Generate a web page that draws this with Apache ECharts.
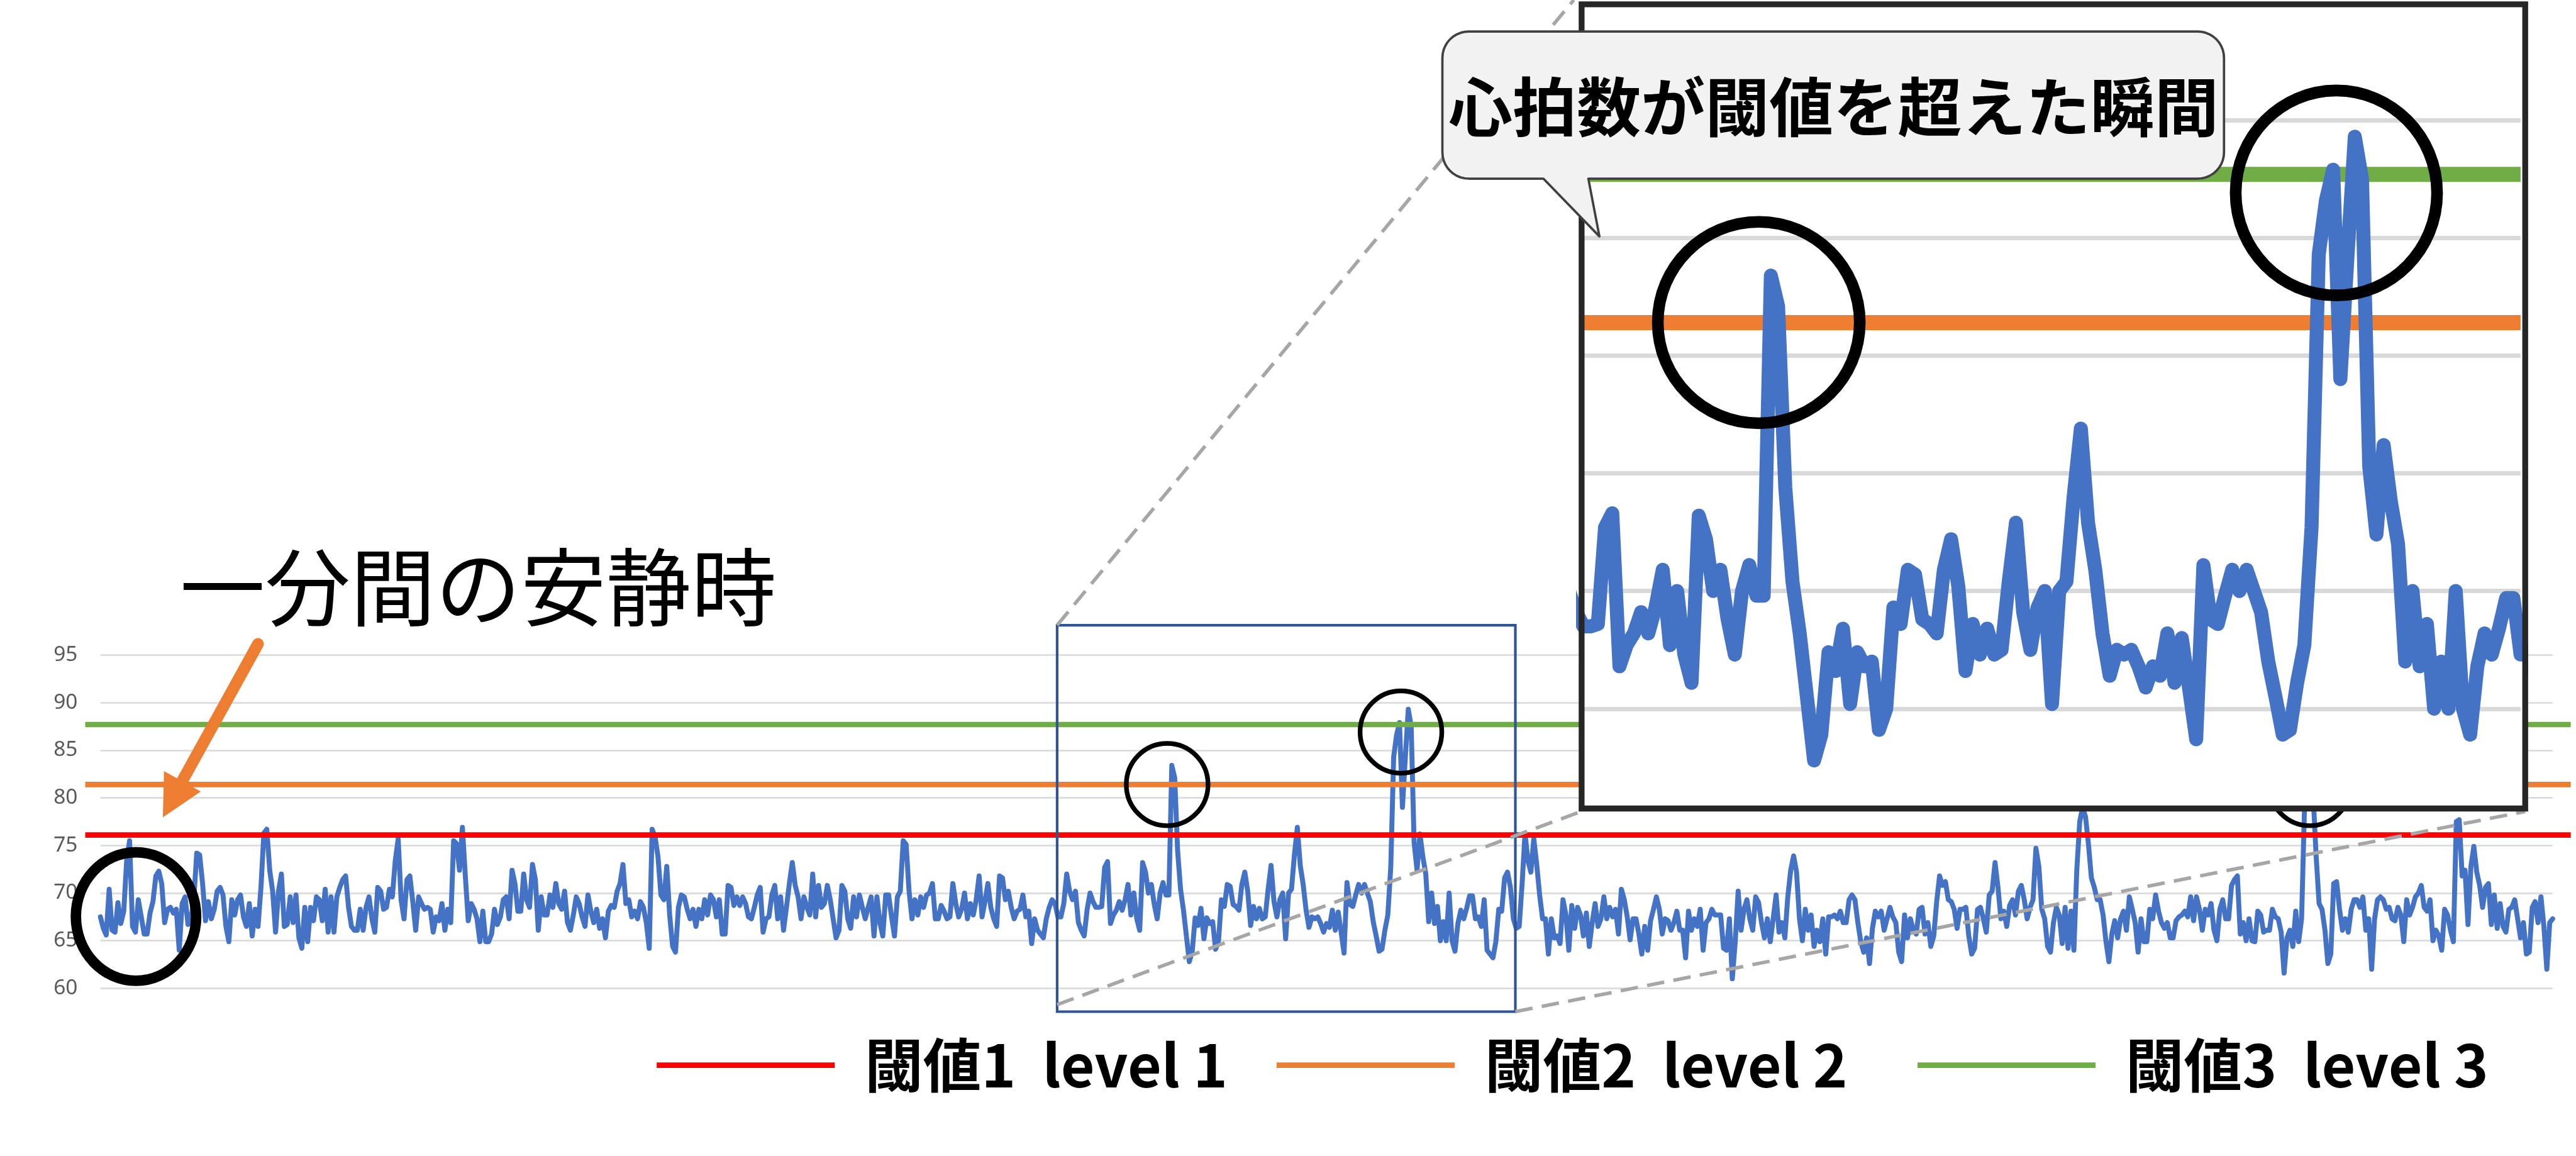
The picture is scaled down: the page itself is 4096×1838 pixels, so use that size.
<!DOCTYPE html>
<html><head><meta charset="utf-8">
<script src="https://cdn.jsdelivr.net/npm/echarts@6/dist/echarts.min.js"></script>
<style>html,body{margin:0;padding:0;background:#fff;overflow:hidden}#c{width:4096px;height:1838px}</style>
</head><body><div id="c"></div>
<script>
// ---------------- data ----------------
const yTicks = [60, 65, 70, 75, 80, 85, 90, 95];
const thresholdNames = ['閾値1  level 1', '閾値2  level 2', '閾値3  level 3'];
const thresholdValues = [76.1, 81.4, 87.7];
const thresholdColors = ['#ff0000', '#ed7d31', '#70ad47'];
const zoomRange = [341, 471];          // sample indices shown magnified in the inset
const restLabel = '一分間の安静時';
const calloutLabel = '心拍数が閾値を超えた瞬間';
const heartRate = [
67.5,66.3,65.6,70.4,66.1,65.9,69,66.8,68.1,73.4,
75.5,66.5,65.9,69.3,67.5,65.7,65.7,67.9,69.1,71.8,
72.3,71,66.9,68.3,68.5,67.9,68.3,64,68.9,69.6,
66.7,67.3,69.3,74.2,74,71,67.1,69.1,67.3,68.3,
70.2,70.6,69.8,66.5,64.9,69.3,67.7,69.3,69.8,67.5,
66.5,68.9,65.5,68.3,66.5,70.6,76.3,76.7,72.4,70.2,
65.9,70.2,72,66.5,66.7,69.6,66.9,69.8,65.3,64.2,
68.5,64.9,68.5,67.1,69.6,69.3,67.1,70.4,65.9,69.6,
65.9,69.6,70.6,71.4,71.8,68.5,66.5,66.1,66.1,68.3,
66.1,68.5,69.6,67.3,65.9,70.6,70.2,68.3,68.5,70.4,
69.6,73.4,75.7,69.3,67.3,71.4,71.8,69.1,66.1,69.6,
68.9,68.3,68.5,68.3,65.9,67.5,67.1,68.9,66.1,68.3,
66.9,75.5,75.2,72.4,76.9,71.8,67.1,68.9,68.3,67.3,
64.9,68.1,64.9,64.9,65.7,68.3,66.7,67.5,69.3,69.6,
67.3,72.4,
71,68.1,68.1,72,69.3,68.5,73,71.4,66.1,69.6,
67.7,67.7,69.8,68.5,71,68.9,68.3,70.2,66.9,66.1,
67.7,69.6,68.9,67.5,66.5,69.8,68.1,66.9,68.3,66.3,
67.3,65.3,68.1,68.7,68.5,70.2,71,73,68.9,69.3,
67.5,68.1,67.3,69.1,68.5,66.9,64.2,76.7,75.9,73.8,
69.8,69.3,72.8,67.7,64.4,63.8,68.5,69.8,69.6,68.3,
67.3,68.3,66.5,68.3,67.3,69.3,67.7,69.8,69.3,67.5,
69.3,65.7,65.7,70.8,70.6,68.7,69.6,68.7,69.6,68.9,
67.5,67.3,68.5,69.8,70.6,65.9,67.3,67.5,69.8,70.8,
67.3,69.6,66.1,68.5,71,73.2,70.8,69.6,67.3,69.6,
68.5,67.7,72,67.5,70.8,68.5,68.9,70.8,69.3,67.3,
65.3,66.1,70.8,70.2,67.3,66.3,69.6,67.5,69.8,68.5,
67.3,68.5,69.6,65.5,69.6,66.9,65.5,69.8,69.8,67.5,
65.5,69.6,70.2,75.5,75.1,70.2,67.3,69.3,67.7,69.6,
68.5,69.8,
70,71,67.3,67.3,68.7,68.1,67.3,67.5,71,68.9,
67.5,68.3,70,67.3,68.9,67.7,69.3,71.8,67.5,69.1,
71,68.5,67.3,66.5,71.8,71.6,69.3,70.2,68.5,67.3,
68.1,68.3,69.8,67.5,68.1,64.7,67.3,66.1,65.7,65.3,
67.3,68.5,69.3,68.9,67.5,67.5,68.9,72,70.2,69.3,
70.2,66.9,66.1,65.5,68.3,70,69.1,
68.5,68.5,68.6,72.7,73.3,66.8,67.7,68.2,69.1,68.2,
69.3,70.9,67.7,70,67.3,66.1,73.2,72.2,70,70.9,
68.8,67.3,70,71.1,69.8,69.8,83.4,82.1,74.4,70.4,
68.2,65.5,62.8,63.9,67.4,66.6,68.4,65.2,67.4,66.8,
67,64.1,65,69.3,68.6,70.9,70.7,68.8,68.6,68.2,
70.9,72.2,70.2,66.6,68.6,67.3,68.4,67.3,67.5,70.4,
72.9,69.1,67.5,69.3,70,65.2,70,70.4,74,76.9,
72.9,70.9,68.2,66.4,67.5,67.3,67.5,66.8,65.9,66.8,
66.4,68.2,66.1,68,65.9,63.7,71.1,68.8,68.6,69.8,
70.9,70,70.9,70,69.1,67,65.5,63.9,64.1,66.1,
67.7,72.7,84.3,86.6,87.9,79,84.3,89.3,87.5,75.3,
72.4,76.2,73.8,72,67,70,66.8,68.6,65,67,
65,70,65,63.9,66.8,68.2,67.3,68.4,69.7,69.7,
67.3,
67.5,66.5,69.3,64,63.6,63.2,64.9,68.3,68.1,71.6,
72.2,70.6,67.3,66.3,66.5,71,76.3,73.4,72.2,75.7,
73,69.8,67.3,67.3,63.6,67.3,65.3,65.5,64.7,69.3,
67.7,64,68.7,66.3,68.5,67.7,65.5,67.9,64.4,66.9,
68.9,66.5,67.3,69.6,67.3,68.5,67.5,68.3,65.7,70.4,
69.3,67.5,65.1,67.3,67.3,65.7,63.6,66.5,64,67.1,
68.3,69.6,68.3,65.7,67.3,67.1,66.1,66.9,68.1,66.1,
66.1,63.2,68.1,66.1,67.3,66.5,68.3,64,66.9,67.3,
68.3,67.7,67.7,67.7,64.2,64,67.3,61,64.9,70.2,
66.1,68.3,69.3,67.3,66.1,69.6,
69,66.9,65.3,67.3,64.9,67.3,69.8,65.9,66.9,65.3,
69.6,72.4,73.9,72.2,67.3,65,68.3,66.1,67.7,64.4,
66.1,64.9,67.3,63.6,67.5,67.5,67.7,67.3,68.1,66.9,
66.9,69.3,69.8,69.3,66.9,64.9,63.8,65.3,62.6,66.3,
68.1,67.5,68.1,66.1,67.3,68.5,67.5,66.9,63.8,62.8,
67.7,65.3,67.3,66.1,65.7,68.3,68.5,65.7,66.9,64.4,
65.5,69.1,71.8,70.8,71.2,69.3,69.1,68.3,66.3,68.3,
68.3,68.5,65.5,63.6,64.2,68.3,68.5,67.3,65.9,69.8,
70.2,73.2,70.6,67.3,68.1,66.5,68.7,69.3,67.7,70.2,
70.8,69.3,67.3,68.5,69.3,74.7,72.8,68.3,67.3,64.4,
63.8,66.9,68.5,67.7,64.7,68.5,64.2,68.1,64,72.4,
77.5,79,78,75.1,71.6,70.6,69.3,69.3,67.7,64.9,
62.8,65.7,67.1,65.3,67.3,68.1,66.1,69.6,68.3,66.9,
63.8,67.3,64.9,64.9,68.3,67.3,69.8,68.1,66.9,66.3,
66.9,65.3,
65.3,67.1,67.5,67.7,68.1,67.5,69.6,67.1,69.6,68.3,
66.1,68.3,67.7,68.9,66.1,65,68.3,69.3,67.3,67.3,
70.8,71.4,71.8,65.7,66.9,65,67.3,65,64.9,68.1,
67.7,65.9,66.1,66.1,68.3,67.5,67.3,65.9,61.6,65.3,
66.1,64.4,68.1,64.9,67.3,79,82,82.5,80,73.8,
68.9,68.3,66.1,62.6,63.6,71,71.2,68.3,66.1,67.3,
65.9,68.3,69.3,69.3,68.5,69.6,66.1,67.3,62,67.3,
69.3,69.6,69.3,68.3,68.5,67.3,67.1,68.5,67.7,64.9,
69.3,67.7,68.5,69.6,70,70.8,68.5,68.1,69.3,65,
66.1,65.5,64,68.3,67.7,66.1,64.9,77.5,77.7,71.8,
72.4,66.7,72.8,74.9,72.2,70.8,68.5,70.6,71,66.7,
69.8,66.3,68.9,66.5,65.9,68.3,68.5,69.3,67.3,65.3,
66.9,63.6,63.8,68.5,69.1,66.9,69.6,66.5,62,66.9,
67.3
];

// ---------------- layout (reference px -> window px) ----------------
const S = 4096 / 4413;
const P = v => v * S;
const FONT_CJK = '"Noto Sans CJK JP", "Noto Sans CJK SC", sans-serif';

const chart = echarts.init(document.getElementById('c'), null, {renderer: 'canvas', devicePixelRatio: 1});
const pts = heartRate.map((v, i) => [i, v]);
const yMin = yTicks[0], yMax = yTicks[yTicks.length - 1];

// graphic helpers (shapes defined in reference pixels, scaled by S)
const g = [];
function shape(type, shp, style, zlevel, z) {
  g.push({type, shape: shp, style, x: 0, y: 0, scaleX: S, scaleY: S, zlevel, z, silent: true});
}
function roundRectWithTail(x0, y0, x1, y1, r, tail) {
  const p = [];
  const arc = (cx, cy, a0, a1) => { for (let k = 0; k <= 10; k++) { const a = (a0 + (a1 - a0) * k / 10) * Math.PI / 180; p.push([cx + r * Math.cos(a), cy + r * Math.sin(a)]); } };
  arc(x0 + r, y0 + r, 180, 270);
  arc(x1 - r, y0 + r, 270, 360);
  arc(x1 - r, y1 - r, 0, 90);
  tail.forEach(t => p.push(t));
  arc(x0 + r, y1 - r, 90, 180);
  return p;
}

// zlevel 0 : main chart annotations
shape('rect', {x: 1811, y: 1071, width: 785, height: 662}, {fill: 'none', stroke: '#2f5597', lineWidth: 4.5}, 0, 10);
shape('line', {x1: 1811, y1: 1071, x2: 2696, y2: 0}, {stroke: '#a6a6a6', lineWidth: 6, lineDash: [30, 16]}, 0, 11);
shape('line', {x1: 1811, y1: 1721, x2: 2709, y2: 1390}, {stroke: '#a6a6a6', lineWidth: 6, lineDash: [30, 16]}, 0, 11);
shape('line', {x1: 2596, y1: 1733, x2: 4326, y2: 1390}, {stroke: '#a6a6a6', lineWidth: 6, lineDash: [30, 16]}, 0, 11);
shape('ellipse', {cx: 233, cy: 1570, rx: 103, ry: 110}, {fill: 'none', stroke: '#000', lineWidth: 18}, 0, 12);
shape('ellipse', {cx: 1999.5, cy: 1344, rx: 70, ry: 70.5}, {fill: 'none', stroke: '#000', lineWidth: 8}, 0, 12);
shape('ellipse', {cx: 2400, cy: 1254, rx: 70, ry: 70.5}, {fill: 'none', stroke: '#000', lineWidth: 8}, 0, 12);
shape('ellipse', {cx: 3957, cy: 1344, rx: 70, ry: 70.5}, {fill: 'none', stroke: '#000', lineWidth: 8}, 0, 12);
shape('line', {x1: 442, y1: 1103, x2: 310, y2: 1342}, {stroke: '#ed7d31', lineWidth: 20, lineCap: 'round'}, 0, 13);
shape('polygon', {points: [[281, 1321], [344, 1356], [279, 1400]]}, {fill: '#ed7d31'}, 0, 13);
g.push({type: 'text', x: P(308), y: P(1006), zlevel: 0, z: 14, silent: true,
  style: {text: restLabel, fontSize: P(146), fontFamily: FONT_CJK, fontWeight: 'normal', fill: '#000',
          textAlign: 'left', textVerticalAlign: 'middle', align: 'left', verticalAlign: 'middle'}});

// zlevel 1 : inset background
shape('rect', {x: 2709.5, y: 7.5, width: 1616.5, height: 1377.5}, {fill: '#ffffff'}, 1, -10);

// zlevel 2 : inset frame, circles and callout
shape('rect', {x: 2709.5, y: 7.5, width: 1616.5, height: 1377.5}, {fill: 'none', stroke: '#262626', lineWidth: 10}, 2, 1);
shape('ellipse', {cx: 3013, cy: 552.5, rx: 173, ry: 172.5}, {fill: 'none', stroke: '#000', lineWidth: 20}, 2, 2);
shape('ellipse', {cx: 4002.5, cy: 330.5, rx: 172.5, ry: 175.5}, {fill: 'none', stroke: '#000', lineWidth: 20}, 2, 2);
shape('polygon', {points: roundRectWithTail(2471, 54, 3810, 306, 45, [[2721, 306], [2740, 405], [2644, 306]])},
      {fill: '#f2f2f2', stroke: '#404040', lineWidth: 4, lineJoin: 'round'}, 2, 3);
g.push({type: 'text', x: P(3141), y: P(183), zlevel: 2, z: 4, silent: true,
  style: {text: calloutLabel, fontSize: P(110), fontFamily: FONT_CJK, fontWeight: 'bold', fill: '#000',
          textAlign: 'center', textVerticalAlign: 'middle', align: 'center', verticalAlign: 'middle'}});

// grids
const mainTop = P(1122), mainH = P(571);
const grid = [
  {left: P(172), top: mainTop, width: P(4201), height: mainH},                 // main
  {left: P(146), top: mainTop, width: P(4404 - 146), height: mainH},           // threshold lines
  {left: P(2712.6), top: P(4.4), width: P(1605.5), height: P(1411.2), zlevel: 1} // inset
];

const series = [
  {type: 'line', xAxisIndex: 0, yAxisIndex: 0, data: pts, symbol: 'none', showSymbol: false, silent: true, z: 2,
   lineStyle: {color: '#4472c4', width: P(8.5), join: 'round', cap: 'round'}}
];
thresholdNames.forEach((n, k) => series.push({
  type: 'line', name: n, xAxisIndex: 1, yAxisIndex: 1, color: thresholdColors[k], symbol: 'none', silent: true, z: 3,
  data: [[0, thresholdValues[k]], [1, thresholdValues[k]]],
  lineStyle: {color: thresholdColors[k], width: P(9.3)}, itemStyle: {color: thresholdColors[k]}
}));
[1, 2].forEach(k => series.push({
  type: 'line', xAxisIndex: 2, yAxisIndex: 2, symbol: 'none', silent: true, zlevel: 1, z: 2,
  data: [[zoomRange[0], thresholdValues[k]], [zoomRange[1], thresholdValues[k]]],
  lineStyle: {color: thresholdColors[k], width: P(26)}
}));
series.push({type: 'line', xAxisIndex: 2, yAxisIndex: 2, data: pts, symbol: 'none', showSymbol: false, silent: true,
  zlevel: 1, z: 3, clip: true, lineStyle: {color: '#4472c4', width: P(24), join: 'round', cap: 'round'}});

const legendLeft = [1125, 2187, 3285];
const legend = thresholdNames.map((n, k) => ({
  data: [{name: n, icon: 'rect', itemStyle: {color: thresholdColors[k]}}],
  left: P(legendLeft[k]), top: P(1824.7) - P(55), padding: 0,
  icon: 'rect', itemWidth: P(305), itemHeight: P(9.5), selectedMode: false,
  textStyle: {fontSize: P(100), fontWeight: 'bold', fontFamily: FONT_CJK, color: '#000',
              lineHeight: P(110), padding: [0, 0, 0, P(46)]}
}));

chart.setOption({
  backgroundColor: '#ffffff',
  animation: false,
  grid,
  xAxis: [
    {gridIndex: 0, type: 'value', min: 0, max: heartRate.length - 1, show: false},
    {gridIndex: 1, type: 'value', min: 0, max: 1, show: false},
    {gridIndex: 2, type: 'value', min: zoomRange[0], max: zoomRange[1], show: false}
  ],
  yAxis: [
    {gridIndex: 0, type: 'value', min: yMin, max: yMax, interval: 5,
     axisLine: {show: false}, axisTick: {show: false},
     axisLabel: {fontSize: P(36), color: '#595959', margin: P(39), fontFamily: '"Noto Sans", sans-serif'},
     splitLine: {lineStyle: {color: '#d9d9d9', width: P(2.8)}}},
    {gridIndex: 1, type: 'value', min: yMin, max: yMax, show: false},
    {gridIndex: 2, type: 'value', min: yMin, max: yMax, interval: 5, zlevel: 1,
     axisLine: {show: false}, axisTick: {show: false}, axisLabel: {show: false},
     splitLine: {show: true, showMinLine: false, showMaxLine: false, lineStyle: {color: '#d9d9d9', width: P(7.5)}}}
  ],
  legend,
  series,
  graphic: {elements: g}
});
</script>
</body></html>
